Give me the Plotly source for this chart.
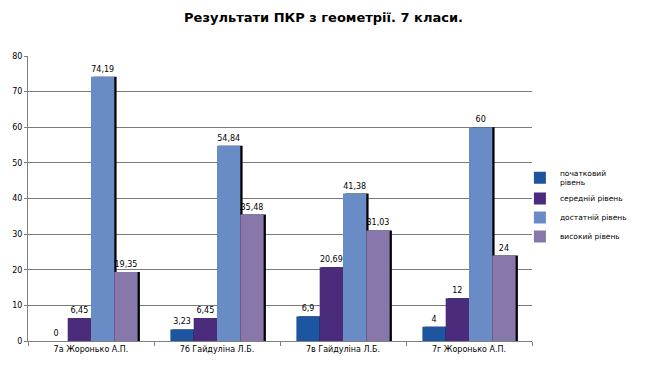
import plotly.graph_objects as go

categories = ["7а Жоронько А.П.", "7б Гайдуліна Л.Б.", "7в Гайдуліна Л.Б.", "7г Жоронько А.П."]
series_names = ["початковий<br>рівень", "середній рівень", "достатній рівень", "високий рівень"]
pochatkovyi = [0, 3.23, 6.9, 4]
serednii = [6.45, 6.45, 20.69, 12]
dostatnii = [74.19, 54.84, 41.38, 60]
vysokyi = [19.35, 35.48, 31.03, 24]
y_ticks = [0, 10, 20, 30, 40, 50, 60, 70, 80]

series = [pochatkovyi, serednii, dostatnii, vysokyi]
colors = ["#1d55a0", "#4a2b7c", "#6a8cc6", "#8877ab"]

fig = go.Figure()
bw = 0.185
start = -2 * bw
font = "DejaVu Sans, Verdana, sans-serif"

def fmt(v):
    return ("%g" % v).replace(".", ",")

for i, (vals, name, col) in enumerate(zip(series, series_names, colors)):
    off = start + i * bw
    fig.add_trace(go.Bar(
        x=categories, y=vals, width=bw, offset=off + 0.018,
        marker=dict(color="black", line=dict(width=0)),
        showlegend=False, hoverinfo="skip"))
    fig.add_trace(go.Bar(
        x=categories, y=vals, width=bw, offset=off, name=name,
        marker=dict(color=col, line=dict(width=0)),
        text=[fmt(v) for v in vals], textposition="outside",
        textfont=dict(family=font, size=8, color="black"),
        cliponaxis=False))

fig.update_layout(
    barmode="overlay",
    width=647, height=378,
    margin=dict(l=28, r=115, t=56, b=37, autoexpand=False),
    paper_bgcolor="white", plot_bgcolor="white",
    title=dict(text="<b>Результати ПКР з геометрії. 7 класи.</b>",
               x=0.5, xanchor="center", xref="container", yref="container",
               y=0.955, yanchor="middle", automargin=False,
               font=dict(family=font, size=13, color="black")),
    font=dict(family=font, size=8, color="black"),
    legend=dict(x=0.976, y=0.63, xanchor="left", yanchor="top",
                font=dict(family=font, size=7.5, color="black"),
                bgcolor="rgba(0,0,0,0)", itemwidth=30, tracegroupgap=0),
    xaxis=dict(type="category", showgrid=False, ticks="outside", tickson="boundaries",
               ticklen=4, tickcolor="#808080", showline=True, linecolor="#808080",
               tickfont=dict(family=font, size=8), range=[-0.5, 3.5], automargin=False),
    yaxis=dict(range=[0, 80], tickvals=y_ticks, showgrid=True, gridcolor="#7a7a7a",
               gridwidth=1, showline=True, linecolor="#808080", ticks="outside",
               ticklen=3, tickcolor="#808080", tickfont=dict(family=font, size=8),
               zeroline=False, automargin=False),
)

fig.write_html("out.html", config={"displayModeBar": False},
               post_script="document.body.style.margin='0';")
